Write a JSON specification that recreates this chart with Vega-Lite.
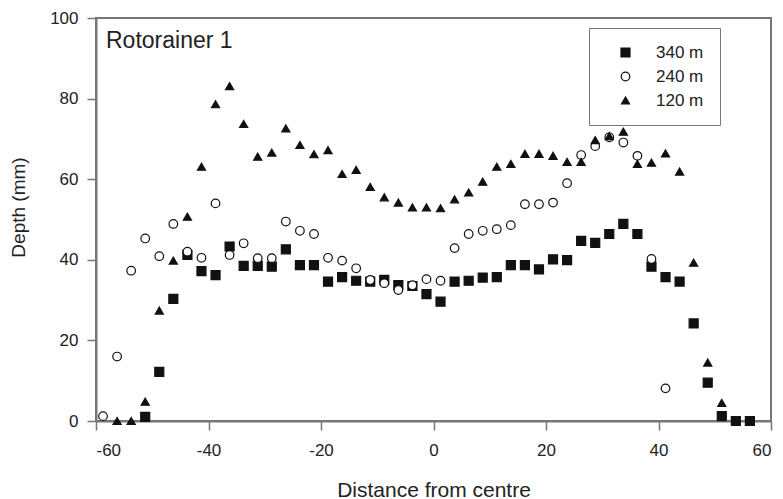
{
  "$schema": "https://vega.github.io/schema/vega-lite/v6.json",
  "width": 675,
  "height": 403,
  "autosize": {"type": "none"},
  "padding": {"left": 96, "top": 18, "right": 12, "bottom": 78},
  "background": "white",
  "title": {
    "text": "Rotorainer 1",
    "anchor": "start",
    "frame": "group",
    "orient": "top",
    "offset": -44,
    "dx": 10,
    "font": "Liberation Sans",
    "fontSize": 23,
    "fontWeight": "normal",
    "color": "#222"
  },
  "config": {
    "font": "Liberation Sans",
    "view": {"stroke": "#777", "strokeWidth": 2},
    "axis": {
      "domainColor": "#777",
      "domainWidth": 2,
      "tickColor": "#777",
      "tickWidth": 1.5,
      "tickSize": 9,
      "grid": false,
      "labelFont": "Liberation Sans",
      "labelFontSize": 17,
      "labelColor": "#222",
      "titleFont": "Liberation Sans",
      "titleFontWeight": "normal",
      "titleColor": "#222"
    }
  },
  "data": {
    "values": [
      {"x": -51.25, "depth": 1.0, "series": "340 m"},
      {"x": -48.75, "depth": 12.2, "series": "340 m"},
      {"x": -46.25, "depth": 30.3, "series": "340 m"},
      {"x": -43.75, "depth": 41.2, "series": "340 m"},
      {"x": -41.25, "depth": 37.2, "series": "340 m"},
      {"x": -38.75, "depth": 36.2, "series": "340 m"},
      {"x": -36.25, "depth": 43.3, "series": "340 m"},
      {"x": -33.75, "depth": 38.5, "series": "340 m"},
      {"x": -31.25, "depth": 38.5, "series": "340 m"},
      {"x": -28.75, "depth": 38.3, "series": "340 m"},
      {"x": -26.25, "depth": 42.6, "series": "340 m"},
      {"x": -23.75, "depth": 38.7, "series": "340 m"},
      {"x": -21.25, "depth": 38.7, "series": "340 m"},
      {"x": -18.75, "depth": 34.6, "series": "340 m"},
      {"x": -16.25, "depth": 35.7, "series": "340 m"},
      {"x": -13.75, "depth": 34.8, "series": "340 m"},
      {"x": -11.25, "depth": 34.6, "series": "340 m"},
      {"x": -8.75, "depth": 35.0, "series": "340 m"},
      {"x": -6.25, "depth": 33.7, "series": "340 m"},
      {"x": -3.75, "depth": 33.5, "series": "340 m"},
      {"x": -1.25, "depth": 31.5, "series": "340 m"},
      {"x": 1.25, "depth": 29.6, "series": "340 m"},
      {"x": 3.75, "depth": 34.6, "series": "340 m"},
      {"x": 6.25, "depth": 34.8, "series": "340 m"},
      {"x": 8.75, "depth": 35.6, "series": "340 m"},
      {"x": 11.25, "depth": 35.7, "series": "340 m"},
      {"x": 13.75, "depth": 38.7, "series": "340 m"},
      {"x": 16.25, "depth": 38.7, "series": "340 m"},
      {"x": 18.75, "depth": 37.6, "series": "340 m"},
      {"x": 21.25, "depth": 40.1, "series": "340 m"},
      {"x": 23.75, "depth": 39.9, "series": "340 m"},
      {"x": 26.25, "depth": 44.7, "series": "340 m"},
      {"x": 28.75, "depth": 44.2, "series": "340 m"},
      {"x": 31.25, "depth": 46.4, "series": "340 m"},
      {"x": 33.75, "depth": 48.9, "series": "340 m"},
      {"x": 36.25, "depth": 46.4, "series": "340 m"},
      {"x": 38.75, "depth": 38.3, "series": "340 m"},
      {"x": 41.25, "depth": 35.7, "series": "340 m"},
      {"x": 43.75, "depth": 34.6, "series": "340 m"},
      {"x": 46.25, "depth": 24.2, "series": "340 m"},
      {"x": 48.75, "depth": 9.5, "series": "340 m"},
      {"x": 51.25, "depth": 1.2, "series": "340 m"},
      {"x": 53.75, "depth": 0, "series": "340 m"},
      {"x": 56.25, "depth": 0, "series": "340 m"},

      {"x": -58.75, "depth": 1.2, "series": "240 m"},
      {"x": -56.25, "depth": 16.0, "series": "240 m"},
      {"x": -53.75, "depth": 37.3, "series": "240 m"},
      {"x": -51.25, "depth": 45.3, "series": "240 m"},
      {"x": -48.75, "depth": 40.9, "series": "240 m"},
      {"x": -46.25, "depth": 48.9, "series": "240 m"},
      {"x": -43.75, "depth": 42.0, "series": "240 m"},
      {"x": -41.25, "depth": 40.5, "series": "240 m"},
      {"x": -38.75, "depth": 54.0, "series": "240 m"},
      {"x": -36.25, "depth": 41.2, "series": "240 m"},
      {"x": -33.75, "depth": 44.1, "series": "240 m"},
      {"x": -31.25, "depth": 40.4, "series": "240 m"},
      {"x": -28.75, "depth": 40.4, "series": "240 m"},
      {"x": -26.25, "depth": 49.5, "series": "240 m"},
      {"x": -23.75, "depth": 47.2, "series": "240 m"},
      {"x": -21.25, "depth": 46.4, "series": "240 m"},
      {"x": -18.75, "depth": 40.5, "series": "240 m"},
      {"x": -16.25, "depth": 39.8, "series": "240 m"},
      {"x": -13.75, "depth": 37.9, "series": "240 m"},
      {"x": -11.25, "depth": 35.0, "series": "240 m"},
      {"x": -8.75, "depth": 34.2, "series": "240 m"},
      {"x": -6.25, "depth": 32.5, "series": "240 m"},
      {"x": -3.75, "depth": 33.7, "series": "240 m"},
      {"x": -1.25, "depth": 35.2, "series": "240 m"},
      {"x": 1.25, "depth": 34.8, "series": "240 m"},
      {"x": 3.75, "depth": 42.9, "series": "240 m"},
      {"x": 6.25, "depth": 46.4, "series": "240 m"},
      {"x": 8.75, "depth": 47.2, "series": "240 m"},
      {"x": 11.25, "depth": 47.6, "series": "240 m"},
      {"x": 13.75, "depth": 48.6, "series": "240 m"},
      {"x": 16.25, "depth": 53.8, "series": "240 m"},
      {"x": 18.75, "depth": 53.8, "series": "240 m"},
      {"x": 21.25, "depth": 54.2, "series": "240 m"},
      {"x": 23.75, "depth": 59.0, "series": "240 m"},
      {"x": 26.25, "depth": 66.0, "series": "240 m"},
      {"x": 28.75, "depth": 68.2, "series": "240 m"},
      {"x": 31.25, "depth": 70.4, "series": "240 m"},
      {"x": 33.75, "depth": 69.1, "series": "240 m"},
      {"x": 36.25, "depth": 65.8, "series": "240 m"},
      {"x": 38.75, "depth": 40.2, "series": "240 m"},
      {"x": 41.25, "depth": 8.1, "series": "240 m"},

      {"x": -56.25, "depth": 0, "series": "120 m"},
      {"x": -53.75, "depth": 0, "series": "120 m"},
      {"x": -51.25, "depth": 4.8, "series": "120 m"},
      {"x": -48.75, "depth": 27.4, "series": "120 m"},
      {"x": -46.25, "depth": 39.8, "series": "120 m"},
      {"x": -43.75, "depth": 50.7, "series": "120 m"},
      {"x": -41.25, "depth": 63.1, "series": "120 m"},
      {"x": -38.75, "depth": 78.6, "series": "120 m"},
      {"x": -36.25, "depth": 83.1, "series": "120 m"},
      {"x": -33.75, "depth": 73.7, "series": "120 m"},
      {"x": -31.25, "depth": 65.6, "series": "120 m"},
      {"x": -28.75, "depth": 66.6, "series": "120 m"},
      {"x": -26.25, "depth": 72.6, "series": "120 m"},
      {"x": -23.75, "depth": 68.5, "series": "120 m"},
      {"x": -21.25, "depth": 66.2, "series": "120 m"},
      {"x": -18.75, "depth": 67.2, "series": "120 m"},
      {"x": -16.25, "depth": 61.3, "series": "120 m"},
      {"x": -13.75, "depth": 62.3, "series": "120 m"},
      {"x": -11.25, "depth": 58.1, "series": "120 m"},
      {"x": -8.75, "depth": 55.5, "series": "120 m"},
      {"x": -6.25, "depth": 54.2, "series": "120 m"},
      {"x": -3.75, "depth": 53.0, "series": "120 m"},
      {"x": -1.25, "depth": 53.0, "series": "120 m"},
      {"x": 1.25, "depth": 52.8, "series": "120 m"},
      {"x": 3.75, "depth": 55.0, "series": "120 m"},
      {"x": 6.25, "depth": 56.7, "series": "120 m"},
      {"x": 8.75, "depth": 59.4, "series": "120 m"},
      {"x": 11.25, "depth": 63.1, "series": "120 m"},
      {"x": 13.75, "depth": 63.8, "series": "120 m"},
      {"x": 16.25, "depth": 66.3, "series": "120 m"},
      {"x": 18.75, "depth": 66.3, "series": "120 m"},
      {"x": 21.25, "depth": 65.8, "series": "120 m"},
      {"x": 23.75, "depth": 64.3, "series": "120 m"},
      {"x": 26.25, "depth": 64.3, "series": "120 m"},
      {"x": 28.75, "depth": 69.7, "series": "120 m"},
      {"x": 31.25, "depth": 70.7, "series": "120 m"},
      {"x": 33.75, "depth": 71.8, "series": "120 m"},
      {"x": 36.25, "depth": 63.8, "series": "120 m"},
      {"x": 38.75, "depth": 64.1, "series": "120 m"},
      {"x": 41.25, "depth": 66.4, "series": "120 m"},
      {"x": 43.75, "depth": 61.9, "series": "120 m"},
      {"x": 46.25, "depth": 39.3, "series": "120 m"},
      {"x": 48.75, "depth": 14.5, "series": "120 m"},
      {"x": 51.25, "depth": 4.5, "series": "120 m"}
    ]
  },
  "mark": {"type": "point", "filled": true, "stroke": "#111", "strokeWidth": 1.2, "opacity": 1},
  "encoding": {
    "x": {
      "field": "x",
      "type": "quantitative",
      "scale": {"domain": [-60, 60], "nice": false, "zero": false},
      "axis": {
        "values": [-60, -40, -20, 0, 20, 40, 60],
        "labelExpr": "replace(datum.label, '\u2212', '-')",
        "title": "Distance from centre",
        "titleFontSize": 21,
        "titleBaseline": "top",
        "titleY": 58,
        "labelPadding": 12
      }
    },
    "y": {
      "field": "depth",
      "type": "quantitative",
      "scale": {"domain": [0, 100], "nice": false},
      "axis": {
        "values": [0, 20, 40, 60, 80, 100],
        "title": "Depth (mm)",
        "titleFontSize": 19,
        "titleBaseline": "middle",
        "titleX": -78,
        "titleY": 189,
        "labelPadding": 9
      }
    },
    "shape": {
      "field": "series",
      "type": "nominal",
      "scale": {"domain": ["340 m", "240 m", "120 m"], "range": ["square", "circle", "triangle-up"]},
      "legend": {
        "title": null,
        "orient": "none",
        "legendX": 493,
        "legendY": 10,
        "padding": 16,
        "strokeColor": "#777",
        "fillColor": "white",
        "labelFontSize": 17,
        "labelColor": "#222",
        "labelOffset": 22,
        "symbolOffset": 12,
        "rowPadding": 6,
        "symbolStrokeColor": "#111",
        "symbolStrokeWidth": 1.2
      }
    },
    "fill": {
      "field": "series",
      "type": "nominal",
      "scale": {"domain": ["340 m", "240 m", "120 m"], "range": ["#111", "white", "#111"]}
    },
    "size": {
      "field": "series",
      "type": "nominal",
      "scale": {"domain": ["340 m", "240 m", "120 m"], "range": [81, 66, 155]}
    }
  }
}
